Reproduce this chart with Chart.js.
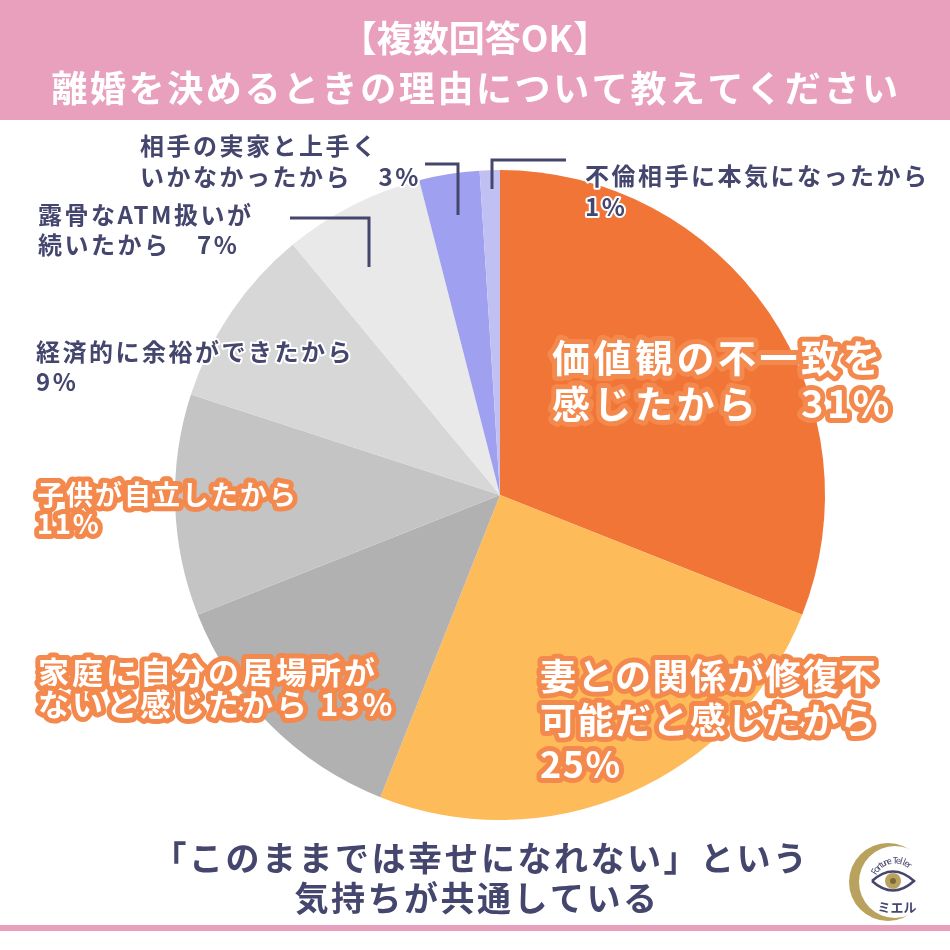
<!DOCTYPE html>
<html lang="ja">
<head>
<meta charset="utf-8">
<title>離婚を決めるときの理由</title>
<script src="https://cdn.jsdelivr.net/npm/chart.js@4"></script>
<style>
  html, body { margin: 0; padding: 0; background: #fff; }
  canvas { display: block; }
</style>
</head>
<body>
<canvas id="pieChart" width="950" height="950"></canvas>
<script>
document.addEventListener('DOMContentLoaded', () => {

  const FONT = '"Noto Sans CJK JP", "Noto Sans", sans-serif';
  const NAVY = '#45466E';
  const PINK = '#E9A0BC';
  const ORANGE_LINE = '#F4894D';

  // data
  const titleLines = ['【複数回答OK】', '離婚を決めるときの理由について教えてください'];
  const categories = [
    '価値観の不一致を感じたから',
    '妻との関係が修復不可能だと感じたから',
    '家庭に自分の居場所がないと感じたから',
    '子供が自立したから',
    '経済的に余裕ができたから',
    '露骨なATM扱いが続いたから',
    '相手の実家と上手くいかなかったから',
    '不倫相手に本気になったから'
  ];
  const values = [31, 25, 13, 11, 9, 7, 3, 1];
  // how each label is broken into lines, %s = value
  const labelLines = [
    ['価値観の不一致を', '感じたから　%s'],
    ['妻との関係が修復不', '可能だと感じたから', '%s'],
    ['家庭に自分の居場所が', 'ないと感じたから %s'],
    ['子供が自立したから', '%s'],
    ['経済的に余裕ができたから', '%s'],
    ['露骨なATM扱いが', '続いたから　%s'],
    ['相手の実家と上手く', 'いかなかったから　%s'],
    ['不倫相手に本気になったから', '%s']
  ];
  const sliceColors = ['#F07537', '#FDBB5A', '#B1B1B1', '#C4C4C4', '#D7D7D7', '#E9E9E9', '#A0A0F0', '#C0C0F2'];
  const footerLines = ['「このままでは幸せになれない」という', '気持ちが共通している'];

  // label placement (left x, first-line centre y)
  const labelStyle = [
    { x: 552, y: 358, size: 38, lh: 46, ls: 3.5, outline: true },
    { x: 540, y: 676, size: 36, lh: 44, ls: 1.5, outline: true },
    { x: 38,  y: 672, size: 31, lh: 32, ls: 3, outline: true },
    { x: 37,  y: 495, size: 27, lh: 29, ls: 2, outline: true },
    { x: 36,  y: 352, size: 24, lh: 30, ls: 2.5, outline: false },
    { x: 38,  y: 215, size: 24, lh: 30, ls: 2.5, outline: false },
    { x: 140, y: 146, size: 24, lh: 31, ls: 2.5, outline: false },
    { x: 585, y: 176, size: 24, lh: 31, ls: 2.5, outline: false }
  ];
  const leaders = [
    [[290, 218], [369, 218], [369, 267]],
    [[425, 164], [458, 164], [458, 215]],
    [[492, 189], [492, 160], [566, 160]]
  ];

  function drawText(ctx, txt, x, y, opts){
    ctx.save();
    ctx.font = `bold ${opts.size}px ${FONT}`;
    ctx.letterSpacing = (opts.ls || 0) + 'px';
    ctx.textAlign = opts.align || 'left';
    ctx.textBaseline = 'middle';
    ctx.lineJoin = 'round';
    if(opts.outline){
      ctx.strokeStyle = ORANGE_LINE;
      ctx.lineWidth = 10;
      ctx.strokeText(txt, x, y);
      ctx.fillStyle = '#fff';
    } else {
      if(opts.halo){
        ctx.strokeStyle = '#fff';
        ctx.lineWidth = 4;
        ctx.strokeText(txt, x, y);
      }
      ctx.fillStyle = opts.color || NAVY;
    }
    ctx.fillText(txt, x, y);
    ctx.restore();
  }

  function drawLogo(ctx){
    ctx.save();
    // crescent
    ctx.fillStyle = '#B9A15E';
    ctx.beginPath();
    ctx.arc(888, 882, 39, 0, Math.PI * 2);
    ctx.fill();
    ctx.fillStyle = '#fff';
    ctx.beginPath();
    ctx.arc(895, 882, 36, 0, Math.PI * 2);
    ctx.fill();
    // eye
    ctx.strokeStyle = NAVY;
    ctx.lineWidth = 2.5;
    ctx.beginPath();
    ctx.moveTo(872, 881);
    ctx.quadraticCurveTo(893, 862, 914, 881);
    ctx.quadraticCurveTo(893, 900, 872, 881);
    ctx.stroke();
    ctx.fillStyle = '#B9A15E';
    ctx.beginPath();
    ctx.arc(893, 881, 8, 0, Math.PI * 2);
    ctx.fill();
    ctx.fillStyle = '#7A6A3A';
    ctx.beginPath();
    ctx.arc(893, 881, 3, 0, Math.PI * 2);
    ctx.fill();
    // arc text
    ctx.fillStyle = NAVY;
    ctx.font = `9px ${FONT}`;
    ctx.textAlign = 'center';
    ctx.textBaseline = 'middle';
    const word = 'Fortune Teller';
    const start = -2.6, step = 0.13;
    for(let i = 0; i < word.length; i++){
      const a = start + i * step;
      ctx.save();
      ctx.translate(895 + Math.cos(a) * 24, 884 + Math.sin(a) * 24);
      ctx.rotate(a + Math.PI / 2);
      ctx.fillText(word[i], 0, 0);
      ctx.restore();
    }
    ctx.font = `bold 13px ${FONT}`;
    ctx.fillText('ミエル', 897, 907);
    ctx.restore();
  }

  const decor = {
    id: 'decor',
    beforeDraw(chart){
      const ctx = chart.ctx;
      ctx.save();
      ctx.fillStyle = '#fff';
      ctx.fillRect(0, 0, 950, 950);
      ctx.fillStyle = PINK;
      ctx.fillRect(0, 0, 950, 120);
      ctx.fillRect(0, 925, 950, 6);
      ctx.restore();
      drawText(ctx, titleLines[0], 475, 38, { size: 36, ls: 0, align: 'center', color: '#fff' });
      drawText(ctx, titleLines[1], 476, 88, { size: 36, ls: 2.6, align: 'center', color: '#fff' });
    },
    afterDraw(chart){
      const ctx = chart.ctx;
      ctx.save();
      ctx.strokeStyle = NAVY;
      ctx.lineWidth = 3;
      ctx.lineCap = 'butt';
      leaders.forEach(pts => {
        ctx.beginPath();
        pts.forEach((p, i) => i ? ctx.lineTo(p[0], p[1]) : ctx.moveTo(p[0], p[1]));
        ctx.stroke();
      });
      ctx.restore();

      labelLines.forEach((lines, i) => {
        const st = labelStyle[i];
        lines.forEach((ln, j) => {
          const txt = ln.replace('%s', values[i] + '%');
          drawText(ctx, txt, st.x, st.y + j * st.lh, { size: st.size, ls: st.ls, outline: st.outline, halo: true });
        });
      });

      drawText(ctx, footerLines[0], 481, 858, { size: 34, ls: 2.5, align: 'center' });
      drawText(ctx, footerLines[1], 477, 898, { size: 34, ls: 2.5, align: 'center' });
      drawLogo(ctx);
    }
  };

  const ctx = document.getElementById('pieChart').getContext('2d');
  new Chart(ctx, {
    type: 'pie',
    data: {
      labels: categories,
      datasets: [{
        data: values,
        backgroundColor: sliceColors,
        borderWidth: 0,
        hoverOffset: 0,
        offset: 0
      }]
    },
    options: {
      responsive: false,
      animation: false,
      events: [],
      layout: { padding: { top: 170, bottom: 130, left: 175, right: 125 } },
      plugins: {
        legend: { display: false },
        tooltip: { enabled: false }
      }
    },
    plugins: [decor]
  });

});
</script>
</body>
</html>
